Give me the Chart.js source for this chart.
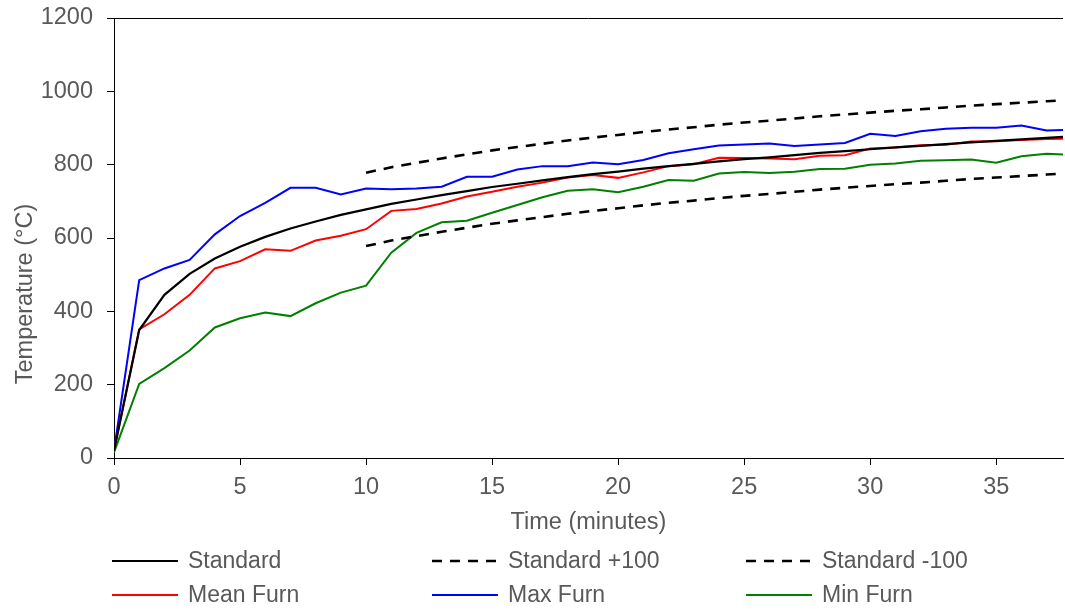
<!DOCTYPE html>
<html>
<head>
<meta charset="utf-8">
<script src="https://cdn.jsdelivr.net/npm/chart.js@4/dist/chart.umd.min.js"></script>
<style>
  html, body { margin: 0; padding: 0; background: #fff; }
  #wrap { width: 1065px; height: 612px; position: relative; }
</style>
</head>
<body>
<div id="wrap"><canvas id="furnaceChart" width="1065" height="612"></canvas></div>
<script>
document.addEventListener("DOMContentLoaded", function() {

// Data (time in minutes, temperature in °C)
const minutes = [0, 1, 2, 3, 4, 5, 6, 7, 8, 9, 10, 11, 12, 13, 14, 15, 16, 17, 18, 19,
                 20, 21, 22, 23, 24, 25, 26, 27, 28, 29, 30, 31, 32, 33, 34, 35, 36, 37, 38];
const limitMinutes = [10, 11, 12, 13, 14, 15, 16, 17, 18, 19, 20, 21, 22, 23, 24, 25, 26, 27, 28,
                      29, 30, 31, 32, 33, 34, 35, 36, 37, 38];

const standardTemp = [20, 349, 445, 502, 544, 576, 603, 626, 645, 663, 678, 693, 705, 717, 728, 739,
                      748, 757, 766, 774, 781, 789, 796, 802, 809, 815, 820, 826, 832, 837, 842, 847,
                      851, 856, 861, 865, 869, 873, 877];
const upperTemp = [778, 793, 805, 817, 828, 839, 848, 857, 866, 874, 881, 889, 896, 902, 909, 915,
                   920, 926, 932, 937, 942, 947, 951, 956, 961, 965, 969, 973, 977];
const lowerTemp = [578, 593, 605, 617, 628, 639, 648, 657, 666, 674, 681, 689, 696, 702, 709, 715,
                   720, 726, 732, 737, 742, 747, 751, 756, 761, 765, 769, 773, 777];
const meanFurn = [20, 351, 392, 445, 517, 537, 569, 565, 593, 606, 624, 674, 679, 694, 713, 726,
                  740, 751, 765, 772, 764, 779, 796, 801, 819, 818, 817, 815, 824, 826, 844, 847,
                  853, 854, 863, 864, 867, 870, 871];
const maxFurn = [20, 485, 517, 540, 610, 660, 696, 737, 737, 719, 735, 733, 735, 740, 767, 767,
                 787, 796, 796, 806, 801, 813, 831, 842, 852, 855, 858, 851, 855, 859, 884, 878,
                 891, 898, 901, 901, 907, 893, 895];
const minFurn = [15, 202, 245, 293, 356, 381, 397, 387, 422, 451, 470, 560, 614, 643, 647, 669,
                 690, 711, 729, 733, 725, 740, 758, 756, 776, 780, 777, 781, 788, 789, 800, 803,
                 811, 812, 814, 805, 823, 830, 827];

const xTicks = [0, 5, 10, 15, 20, 25, 30, 35];
const yTicks = [0, 200, 400, 600, 800, 1000, 1200];

const textGrey = '#595959';
const fontFamily = '"Liberation Sans", Arial, sans-serif';

function pairs(xs, ys) {
  return xs.map(function(x, i) { return { x: x, y: ys[i] }; });
}

// Top frame line, y axis title and the two-row legend under the x title
const frameAndLegend = {
  id: 'frameAndLegend',
  afterDraw: function(chart) {
    const ctx = chart.ctx;
    const area = chart.chartArea;
    ctx.save();
    ctx.strokeStyle = '#000';
    ctx.lineWidth = 1;
    ctx.beginPath();
    ctx.moveTo(area.left, Math.round(area.top) + 0.5);
    ctx.lineTo(area.right, Math.round(area.top) + 0.5);
    ctx.stroke();

    // y axis title sits a bit below the middle of the plot, like the original
    ctx.save();
    ctx.translate(26, 294);
    ctx.rotate(-Math.PI / 2);
    ctx.font = '23.5px ' + fontFamily;
    ctx.fillStyle = textGrey;
    ctx.textAlign = 'center';
    ctx.textBaseline = 'middle';
    ctx.fillText('Temperature (°C)', 0, 0);
    ctx.restore();

    const colX = [112, 432, 746];
    const rowY = [561, 595];
    ctx.font = '23px ' + fontFamily;
    ctx.textBaseline = 'middle';
    chart.data.datasets.forEach(function(ds, i) {
      const x = colX[i % 3];
      const y = rowY[Math.floor(i / 3)];
      ctx.strokeStyle = ds.borderColor;
      ctx.lineWidth = ds.borderWidth;
      ctx.setLineDash(ds.borderDash || []);
      ctx.beginPath();
      ctx.moveTo(x, y);
      ctx.lineTo(x + 66, y);
      ctx.stroke();
      ctx.setLineDash([]);
      ctx.fillStyle = textGrey;
      ctx.fillText(ds.label, x + 76, y + 1);
    });
    ctx.restore();
  }
};

const ctxLine = document.getElementById('furnaceChart');

new Chart(ctxLine, {
  type: 'line',
  data: {
    datasets: [{
        label: 'Standard',
        data: pairs(minutes, standardTemp),
        borderColor: '#000000',
        borderWidth: 2.2
      },
      {
        label: 'Standard +100',
        data: pairs(limitMinutes, upperTemp),
        borderColor: '#000000',
        borderWidth: 2.6,
        borderDash: [10, 8]
      },
      {
        label: 'Standard -100',
        data: pairs(limitMinutes, lowerTemp),
        borderColor: '#000000',
        borderWidth: 2.6,
        borderDash: [10, 8]
      },
      {
        label: 'Mean Furn',
        data: pairs(minutes, meanFurn),
        borderColor: '#FF0000',
        borderWidth: 2
      },
      {
        label: 'Max Furn',
        data: pairs(minutes, maxFurn),
        borderColor: '#0000FF',
        borderWidth: 2
      },
      {
        label: 'Min Furn',
        data: pairs(minutes, minFurn),
        borderColor: '#008000',
        borderWidth: 2
      }
    ]
  },
  options: {
    responsive: false,
    animation: false,
    elements: {
      point: { radius: 0 },
      line: { tension: 0 }
    },
    layout: {
      padding: { left: 7, right: 2, top: 0, bottom: 71 }
    },
    plugins: {
      legend: { display: false },
      tooltip: { enabled: false }
    },
    scales: {
      x: {
        type: 'linear',
        min: 0,
        max: 37.65,
        afterBuildTicks: function(scale) {
          scale.ticks = xTicks.map(function(v) { return { value: v }; });
        },
        afterFit: function(scale) { scale.height = 83; },
        grid: {
          display: true,
          drawOnChartArea: false,
          drawTicks: true,
          tickLength: 7,
          color: '#000'
        },
        border: { display: true, color: '#000', width: 1 },
        ticks: {
          color: textGrey,
          font: { family: fontFamily, size: 23.5 },
          padding: 8,
          maxRotation: 0,
          callback: function(value) { return String(value); }
        },
        title: {
          display: true,
          text: 'Time (minutes)',
          color: textGrey,
          font: { family: fontFamily, size: 23.5 }
        }
      },
      y: {
        min: 0,
        max: 1200,
        afterBuildTicks: function(scale) {
          scale.ticks = yTicks.map(function(v) { return { value: v }; });
        },
        afterFit: function(scale) {
          scale.width = 107;
          scale.paddingTop = 18;
        },
        grid: {
          display: true,
          drawOnChartArea: false,
          drawTicks: true,
          tickLength: 7,
          color: '#000'
        },
        border: { display: true, color: '#000', width: 1 },
        ticks: {
          color: textGrey,
          font: { family: fontFamily, size: 23.5 },
          padding: 14,
          callback: function(value) { return String(value); }
        },
        title: { display: false }
      }
    }
  },
  plugins: [frameAndLegend]
});

});
</script>
</body>
</html>
